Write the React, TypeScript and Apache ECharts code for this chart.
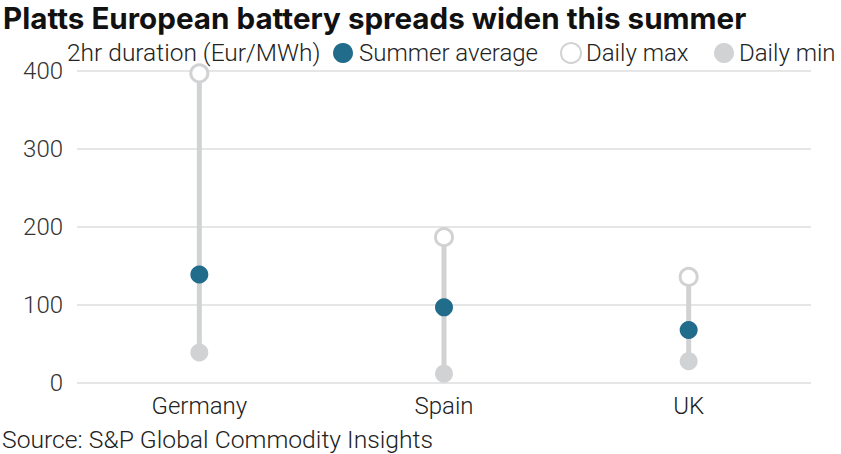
import React, { useEffect, useRef } from "react";
import * as echarts from "echarts";

const categories = ["Germany", "Spain", "UK"];
const summerAverage = [139, 97, 68];
const dailyMax = [397, 187, 136];
const dailyMin = [39, 12, 28];
const yMin = 0;
const yMax = 400;
const yInterval = 100;

const TEAL = "#206c8a";
const GREY = "#d1d2d4";
const FONT = "Roboto";
const TEXT = "#222222";

export default function App() {
  const ref = useRef<HTMLDivElement>(null);
  useEffect(() => {
    document.body.style.margin = "0";
    const chart = echarts.init(ref.current!, undefined, { renderer: "svg" });
    const legendText = { fontFamily: FONT, fontSize: 24, fontWeight: 300, color: TEXT };
    const option: any = {
      animation: false,
      backgroundColor: "#ffffff",
      textStyle: { fontFamily: FONT },
      graphic: [
        {
          type: "text",
          left: 3,
          top: 3,
          style: {
            text: "Platts European battery spreads widen this summer",
            fontFamily: "Inter",
            fontSize: 29.6,
            fontWeight: "bold",
            fill: "#111111",
          },
        },
        {
          type: "text",
          left: 67,
          top: 40,
          style: {
            text: "2hr duration (Eur/MWh)",
            fontFamily: FONT,
            fontSize: 24.5,
            fontWeight: 300,
            fill: TEXT,
          },
        },
        {
          type: "text",
          left: 2,
          top: 427,
          style: {
            text: "Source: S&P Global Commodity Insights",
            fontFamily: FONT,
            fontSize: 24.7,
            fontWeight: 300,
            fill: TEXT,
          },
        },
      ],
      legend: [
        {
          left: 328,
          top: 36,
          icon: "circle",
          itemWidth: 20,
          itemHeight: 20,
          data: ["Summer average"],
          textStyle: { ...legendText, padding: [0, 0, 0, 1] },
        },
        {
          left: 555,
          top: 36,
          icon: "circle",
          itemWidth: 20,
          itemHeight: 20,
          data: ["Daily max"],
          textStyle: { ...legendText, padding: [0, 0, 0, 0] },
        },
        {
          left: 709,
          top: 36,
          icon: "circle",
          itemWidth: 20,
          itemHeight: 20,
          data: ["Daily min"],
          textStyle: { ...legendText, padding: [0, 0, 0, 0] },
        },
      ],
      grid: { left: 77, right: 30, top: 71, bottom: 71, containLabel: false },
      xAxis: {
        type: "category",
        data: categories,
        axisLine: { show: false },
        axisTick: { show: false },
        axisLabel: { fontFamily: FONT, fontSize: 24, fontWeight: 300, color: TEXT, margin: 11 },
      },
      yAxis: {
        type: "value",
        min: yMin,
        max: yMax,
        interval: yInterval,
        axisLine: { show: false },
        axisTick: { show: false },
        axisLabel: { fontFamily: FONT, fontSize: 24, fontWeight: 300, color: "#333333", margin: 14, padding: [12, 0, 0, 0] },
        splitLine: { lineStyle: { color: "#e6e6e6", width: 2 } },
      },
      series: [
        {
          name: "range",
          type: "custom",
          silent: true,
          renderItem: (params: any, api: any) => {
            const x = api.value(0);
            const p1 = api.coord([x, api.value(1)]);
            const p2 = api.coord([x, api.value(2)]);
            return {
              type: "line",
              shape: { x1: p1[0], y1: p1[1], x2: p2[0], y2: p2[1] },
              style: { stroke: GREY, lineWidth: 5 },
            };
          },
          data: categories.map((c, i) => [i, dailyMin[i], dailyMax[i]]),
          z: 1,
        },
        {
          name: "Daily min",
          type: "scatter",
          symbol: "circle",
          symbolSize: 18,
          itemStyle: { color: GREY, opacity: 1 },
          data: dailyMin,
          z: 2,
        },
        {
          name: "Daily max",
          type: "scatter",
          symbol: "circle",
          symbolSize: 17,
          itemStyle: { color: "#ffffff", borderColor: GREY, borderWidth: 3, opacity: 1 },
          data: dailyMax,
          z: 3,
        },
        {
          name: "Summer average",
          type: "scatter",
          symbol: "circle",
          symbolSize: 18,
          itemStyle: { color: TEAL, opacity: 1 },
          data: summerAverage,
          z: 4,
        },
      ],
    };
    chart.setOption(option);
    return () => chart.dispose();
  }, []);
  return <div ref={ref} style={{ width: 841, height: 454 }} />;
}
